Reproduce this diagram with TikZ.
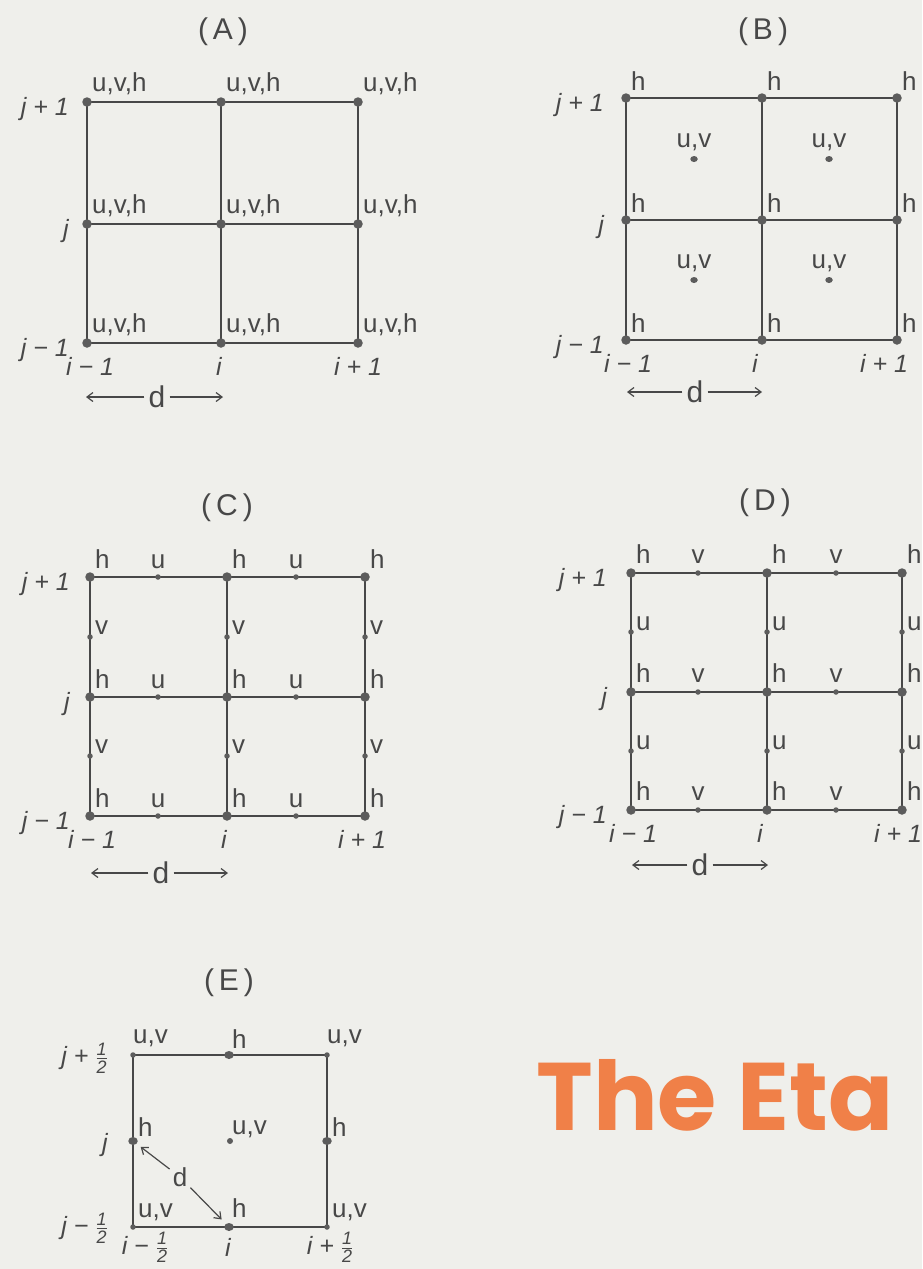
\documentclass[tikz,border=0pt]{standalone}
\usepackage{fontspec}
\usepackage{graphicx}
\setmainfont{Liberation Sans}
\newfontfamily\etafont{Poppins}
\usetikzlibrary{arrows.meta,shapes.geometric}
\definecolor{paper}{RGB}{239,239,235}
\definecolor{ink}{RGB}{72,72,72}
\definecolor{dotc}{RGB}{92,92,92}
\definecolor{etac}{RGB}{240,128,72}
\newcommand\half{\ensuremath{\frac{\mbox{\fontsize{18}{18}\selectfont 1}}{\mbox{\fontsize{18}{18}\selectfont 2}}}}
\begin{document}
\begin{tikzpicture}[x=1pt,y=-1pt,
  gridline/.style={draw=ink, line width=1.6pt},
  bigdot/.style={circle, fill=dotc, inner sep=0pt, minimum size=9.5pt},
  smalldot/.style={circle, fill=dotc, inner sep=0pt, minimum size=5.5pt},
  lab/.style={text=ink, font=\fontsize{26}{26}\selectfont, inner sep=0pt},
  idx/.style={text=ink, font=\fontsize{25}{25}\selectfont\itshape, inner sep=0pt},
  ttl/.style={text=ink, font=\fontsize{30}{30}\selectfont, inner sep=0pt},
  dlab/.style={text=ink, font=\fontsize{30}{30}\selectfont, inner sep=4pt},
  darr/.style={draw=ink, line width=1.2pt, -{Straight Barb[length=6pt,width=9pt]}}]
\useasboundingbox (0,0) rectangle (922,1269);
\fill[paper] (0,0) rectangle (922,1269);

% ---------------- (A) ----------------
\node[ttl] (At) at (223,32) {(\hspace{5pt}A\hspace{5pt})};
\foreach \c/\x in {0/87,1/221,2/358}{\foreach \r/\y in {0/102,1/224,2/343}{\coordinate (A\c\r) at (\x,\y);}}
\draw[gridline] (A00) -- (A20) -- (A22) -- (A02) -- cycle (A10) -- (A12) (A01) -- (A21);
\foreach \c in {0,1,2}{\foreach \r in {0,1,2}{
  \node[bigdot] (Ad\c\r) at (A\c\r) {};
  \node[lab, anchor=base west, xshift=5pt, yshift=11pt] (Al\c\r) at (A\c\r) {u,v,h};}}
\node[idx, anchor=base east] (Aj0) at (69,115) {j + 1};
\node[idx, anchor=base east] (Aj1) at (69,237) {j};
\node[idx, anchor=base east] (Aj2) at (69,356) {j − 1};
\node[idx, anchor=base] (Ai0) at (90,375) {i − 1};
\node[idx, anchor=base] (Ai1) at (219,375) {i};
\node[idx, anchor=base] (Ai2) at (358,375) {i + 1};
\node[dlab] (Ad) at (157,397) {d};
\coordinate (Adl) at (86,397); \coordinate (Adr) at (223,397);
\draw[darr] (Ad) -- (Adl); \draw[darr] (Ad) -- (Adr);

% ---------------- (B) ----------------
\node[ttl] (Bt) at (763,32) {(\hspace{5pt}B\hspace{5pt})};
\foreach \c/\x in {0/626,1/762,2/897}{\foreach \r/\y in {0/98,1/220,2/340}{\coordinate (B\c\r) at (\x,\y);}}
\draw[gridline] (B00) -- (B20) -- (B22) -- (B02) -- cycle (B10) -- (B12) (B01) -- (B21);
\foreach \c in {0,1,2}{\foreach \r in {0,1,2}{
  \node[bigdot] (Bd\c\r) at (B\c\r) {};
  \node[lab, anchor=base west, xshift=5pt, yshift=8pt] (Bl\c\r) at (B\c\r) {h};}}
\foreach \c/\x in {0/694,1/829}{\foreach \r/\y in {0/159,1/280}{
  \node[smalldot, ellipse, minimum width=7.5pt, minimum height=6pt] (Bc\c\r) at (\x,\y) {};
  \node[lab, anchor=base, yshift=12pt] (Bcl\c\r) at (Bc\c\r) {u,v};}}
\node[idx, anchor=base east] (Bj0) at (604,111) {j + 1};
\node[idx, anchor=base east] (Bj1) at (604,233) {j};
\node[idx, anchor=base east] (Bj2) at (604,353) {j − 1};
\node[idx, anchor=base] (Bi0) at (628,372) {i − 1};
\node[idx, anchor=base] (Bi1) at (755,372) {i};
\node[idx, anchor=base] (Bi2) at (884,372) {i + 1};
\node[dlab] (Bd) at (695,392) {d};
\coordinate (Bdl) at (627,392); \coordinate (Bdr) at (762,392);
\draw[darr] (Bd) -- (Bdl); \draw[darr] (Bd) -- (Bdr);

% ---------------- (C) ----------------
\node[ttl] (Ct) at (227,508) {(\hspace{5pt}C\hspace{5pt})};
\foreach \c/\x in {0/90,1/227,2/365}{\foreach \r/\y in {0/577,1/697,2/816}{\coordinate (C\c\r) at (\x,\y);}}
\draw[gridline] (C00) -- (C20) -- (C22) -- (C02) -- cycle (C10) -- (C12) (C01) -- (C21);
\foreach \c in {0,1,2}{\foreach \r in {0,1,2}{
  \node[bigdot] (Cd\c\r) at (C\c\r) {};
  \node[lab, anchor=base west, xshift=5pt, yshift=9pt] (Cl\c\r) at (C\c\r) {h};}}
\foreach \c/\x in {0/158,1/296}{\foreach \r/\y in {0/577,1/697,2/816}{
  \node[smalldot] (Cu\c\r) at (\x,\y) {};
  \node[lab, anchor=base, yshift=9pt] (Cul\c\r) at (Cu\c\r) {u};}}
\foreach \c/\x in {0/90,1/227,2/365}{\foreach \r/\y in {0/637,1/756}{
  \node[smalldot] (Cv\c\r) at (\x,\y) {};
  \node[lab, anchor=base west, xshift=5pt, yshift=3pt] (Cvl\c\r) at (Cv\c\r) {v};}}
\node[idx, anchor=base east] (Cj0) at (70,590) {j + 1};
\node[idx, anchor=base east] (Cj1) at (70,710) {j};
\node[idx, anchor=base east] (Cj2) at (70,829) {j − 1};
\node[idx, anchor=base] (Ci0) at (92,848) {i − 1};
\node[idx, anchor=base] (Ci1) at (224,848) {i};
\node[idx, anchor=base] (Ci2) at (362,848) {i + 1};
\node[dlab] (Cd) at (161,873) {d};
\coordinate (Cdl) at (91,873); \coordinate (Cdr) at (228,873);
\draw[darr] (Cd) -- (Cdl); \draw[darr] (Cd) -- (Cdr);

% ---------------- (D) ----------------
\node[ttl] (Dt) at (765,503) {(\hspace{5pt}D\hspace{5pt})};
\foreach \c/\x in {0/631,1/767,2/902}{\foreach \r/\y in {0/573,1/692,2/810}{\coordinate (D\c\r) at (\x,\y);}}
\draw[gridline] (D00) -- (D20) -- (D22) -- (D02) -- cycle (D10) -- (D12) (D01) -- (D21);
\foreach \c in {0,1,2}{\foreach \r in {0,1,2}{
  \node[bigdot] (Dd\c\r) at (D\c\r) {};
  \node[lab, anchor=base west, xshift=5pt, yshift=10pt] (Dl\c\r) at (D\c\r) {h};}}
\foreach \c/\x in {0/698,1/836}{\foreach \r/\y in {0/573,1/692,2/810}{
  \node[smalldot] (Dv\c\r) at (\x,\y) {};
  \node[lab, anchor=base, yshift=10pt] (Dvl\c\r) at (Dv\c\r) {v};}}
\foreach \c/\x in {0/631,1/767,2/902}{\foreach \r/\y in {0/632,1/751}{
  \node[smalldot] (Du\c\r) at (\x,\y) {};
  \node[lab, anchor=base west, xshift=5pt, yshift=2pt] (Dul\c\r) at (Du\c\r) {u};}}
\node[idx, anchor=base east] (Dj0) at (607,586) {j + 1};
\node[idx, anchor=base east] (Dj1) at (607,705) {j};
\node[idx, anchor=base east] (Dj2) at (607,823) {j − 1};
\node[idx, anchor=base] (Di0) at (633,842) {i − 1};
\node[idx, anchor=base] (Di1) at (760,842) {i};
\node[idx, anchor=base] (Di2) at (898,842) {i + 1};
\node[dlab] (Dd) at (700,865) {d};
\coordinate (Ddl) at (632,865); \coordinate (Ddr) at (768,865);
\draw[darr] (Dd) -- (Ddl); \draw[darr] (Dd) -- (Ddr);

% ---------------- (E) ----------------
\node[ttl] (Et) at (229,983) {(\hspace{5pt}E\hspace{5pt})};
\coordinate (E00) at (133,1227); \coordinate (E20) at (327,1227);
\coordinate (E02) at (133,1055); \coordinate (E22) at (327,1055);
\draw[gridline] (E00) -- (E20) -- (E22) -- (E02) -- cycle;
\foreach \n/\p in {00/{133,1227},20/{327,1227},02/{133,1055},22/{327,1055}}{
  \node[smalldot] (Ec\n) at (\p) {};}
\node[bigdot, ellipse, minimum width=9.5pt, minimum height=8pt] (Eht) at (229,1055) {};
\node[bigdot, ellipse, minimum width=9.5pt, minimum height=8pt] (Ehb) at (229,1227) {};
\node[bigdot, ellipse, minimum width=9.5pt, minimum height=8pt] (Ehl) at (133,1141) {};
\node[bigdot, ellipse, minimum width=9.5pt, minimum height=8pt] (Ehr) at (327,1141) {};
\node[smalldot, minimum size=6pt] (Ec) at (230,1141) {};
\node[lab, anchor=base west, yshift=12pt] (El02) at (Ec02) {u,v};
\node[lab, anchor=base west, yshift=12pt] (El22) at (Ec22) {u,v};
\node[lab, anchor=base west, xshift=5pt, yshift=10pt] (El00) at (Ec00) {u,v};
\node[lab, anchor=base west, xshift=5pt, yshift=10pt] (El20) at (Ec20) {u,v};
\node[lab, anchor=base west, xshift=3pt, yshift=7pt] (Elht) at (Eht) {h};
\node[lab, anchor=base west, xshift=3pt, yshift=10pt] (Elhb) at (Ehb) {h};
\node[lab, anchor=base west, xshift=5pt, yshift=5pt] (Elhl) at (Ehl) {h};
\node[lab, anchor=base west, xshift=5pt, yshift=5pt] (Elhr) at (Ehr) {h};
\node[lab, anchor=base west, xshift=2pt, yshift=7pt] (Elc) at (Ec) {u,v};
\node[dlab, font=\fontsize{26}{26}\selectfont, inner sep=3pt] (Ed) at (180,1177) {d};
\draw[darr, shorten >=5pt] (Ed) -- (Ehl);
\draw[darr, shorten >=6pt] (Ed) -- (Ehb);
\node[idx, anchor=east] (Ej0) at (108,1058) {j + \half};
\node[idx, anchor=base east] (Ej1) at (108,1151) {j};
\node[idx, anchor=east] (Ej2) at (108,1228) {j − \half};
\node[idx, anchor=north] (Ei0) at (145,1232) {i − \half};
\node[idx, anchor=base] (Ei1) at (228,1256) {i};
\node[idx, anchor=north] (Ei2) at (330,1232) {i + \half};

% ---------------- The Eta ----------------
\node[text=etac, font=\etafont\bfseries\fontsize{96}{96}\selectfont, inner sep=0pt] (eta) at (715,1095) {The Eta};
\end{tikzpicture}
\end{document}
